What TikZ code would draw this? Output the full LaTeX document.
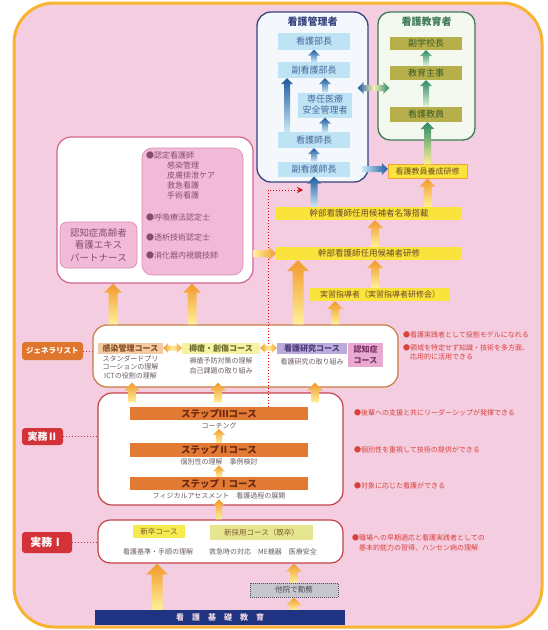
\documentclass[tikz,border=0pt]{standalone}
\usepackage{fontspec}
\setmainfont{Noto Sans CJK JP}
\usetikzlibrary{calc,arrows.meta}

\definecolor{pinkbg}{HTML}{F5CDE1}
\definecolor{frameO}{HTML}{F8B331}
\definecolor{mgrLine}{HTML}{36437E}
\definecolor{mgrFill}{HTML}{F4F8FC}
\definecolor{mgrPost}{HTML}{BEE3F4}
\definecolor{mgrText}{HTML}{4A6A9E}
\definecolor{eduLine}{HTML}{3F7A58}
\definecolor{eduFill}{HTML}{F3F9EF}
\definecolor{eduPost}{HTML}{B7B04A}
\definecolor{eduText}{HTML}{3E5A2A}
\definecolor{barY}{HTML}{FAE43C}
\definecolor{barLine}{HTML}{F2A23A}
\definecolor{barText}{HTML}{6A4A2A}
\definecolor{qualLine}{HTML}{D2648F}
\definecolor{pinkPost}{HTML}{F1BAD7}
\definecolor{pinkLine}{HTML}{D98AB4}
\definecolor{pinkText}{HTML}{8A4A70}
\definecolor{genLine}{HTML}{C97A40}
\definecolor{genTag}{HTML}{E0762E}
\definecolor{kansenFill}{HTML}{F2CAA4}
\definecolor{kansenText}{HTML}{8A4E22}
\definecolor{jokusoFill}{HTML}{F5F2A4}
\definecolor{jokusoText}{HTML}{6E6E2C}
\definecolor{kenkyuFill}{HTML}{BAABDA}
\definecolor{kenkyuText}{HTML}{4C3C7C}
\definecolor{ninchiFill}{HTML}{E9AAD2}
\definecolor{ninchiText}{HTML}{7C3268}
\definecolor{subText}{HTML}{6A5C66}
\definecolor{redTxt}{HTML}{D8423A}
\definecolor{redTag}{HTML}{D23238}
\definecolor{redLine}{HTML}{C2424A}
\definecolor{dotRed}{HTML}{B83A4A}
\definecolor{stepFill}{HTML}{E27A34}
\definecolor{stepText}{HTML}{6A2810}
\definecolor{newFill}{HTML}{F6EB4E}
\definecolor{midFill}{HTML}{E7E690}
\definecolor{newText}{HTML}{7A5A30}
\definecolor{grayFill}{HTML}{C6C6CC}
\definecolor{grayLine}{HTML}{505062}
\definecolor{grayText}{HTML}{4A4A5A}
\definecolor{navy}{HTML}{1E3482}
\definecolor{navyText}{HTML}{F0D4E2}
\definecolor{arrO}{HTML}{F19A2C}
\definecolor{arrY}{HTML}{FFF09A}
\definecolor{arrB}{HTML}{1E5C9E}
\definecolor{arrLB}{HTML}{CBE7F6}
\definecolor{arrG}{HTML}{2B8A66}
\definecolor{arrLG}{HTML}{E4F3DA}

\newcommand\fs[2]{\fontsize{#1}{#2}\selectfont}
\newcommand\vfat[4][]{\shade[#1] let \p1=(#2), \p2=(#3) in (\x1-#4,\y1) -- (\x1-#4,\y2-2*#4) -- (\x1-2*#4,\y2-2*#4) -- (\x1,\y2) -- (\x1+2*#4,\y2-2*#4) -- (\x1+#4,\y2-2*#4) -- (\x1+#4,\y1) -- cycle;}
\newcommand\hfat[4][]{\shade[#1] let \p1=(#2), \p2=(#3) in (\x1,\y1-#4) -- (\x2-2*#4,\y1-#4) -- (\x2-2*#4,\y1-2*#4) -- (\x2,\y1) -- (\x2-2*#4,\y1+2*#4) -- (\x2-2*#4,\y1+#4) -- (\x1,\y1+#4) -- cycle;}
\newcommand\dfat[4][]{\shade[#1] let \p1=(#2), \p2=(#3) in (\x1,\y1) -- (\x1+2*#4,\y1+2*#4) -- (\x1+2*#4,\y1+#4) -- (\x2-2*#4,\y1+#4) -- (\x2-2*#4,\y1+2*#4) -- (\x2,\y1) -- (\x2-2*#4,\y1-2*#4) -- (\x2-2*#4,\y1-#4) -- (\x1+2*#4,\y1-#4) -- (\x1+2*#4,\y1-2*#4) -- cycle;}

\begin{document}
\begin{tikzpicture}[x=1pt,y=-1pt]
        \tikzstyle{every node}+=[inner sep=0pt]
        \tikzstyle{outerframe}=[draw=frameO, line width=3pt, fill=pinkbg, rounded corners=40pt]
        \tikzstyle{mgrbox}=[draw=mgrLine, line width=1.3pt, fill=mgrFill, rounded corners=14pt]
        \tikzstyle{edubox}=[draw=eduLine, line width=1.3pt, fill=eduFill, rounded corners=12pt]
        \tikzstyle{ttl}=[font=\fs{10}{12}\bfseries]
        \tikzstyle{mgrpost}=[fill=mgrPost, text=mgrText, minimum width=72pt, font=\fs{9}{11}, align=center]
        \tikzstyle{edupost}=[fill=eduPost, text=eduText, minimum width=72pt, font=\fs{9}{11}]
        \tikzstyle{ybar}=[fill=barY, text=barText, minimum height=13pt, font=\fs{8.5}{10}]
        \tikzstyle{wbox}=[fill=white, line width=1.2pt, rounded corners=14pt]
        \tikzstyle{pinkpost}=[fill=pinkPost, draw=pinkLine, line width=0.6pt, rounded corners=7pt, text=pinkText, font=\fs{9.5}{12.5}, align=center]
        \tikzstyle{listtxt}=[anchor=west, text=pinkText, font=\fs{8}{9}]
        \tikzstyle{sidetag}=[text=white, rounded corners=3pt, font=\fs{10}{12}\bfseries]
        \tikzstyle{course}=[minimum height=11pt, font=\fs{8}{10}\bfseries]
        \tikzstyle{subtxt}=[text=subText, font=\fs{7}{8.5}, align=center]
        \tikzstyle{redtxt}=[anchor=west, text=redTxt, font=\fs{7}{9}]
        \tikzstyle{stepbar}=[fill=stepFill, text=stepText, minimum width=178pt, minimum height=13pt, font=\fs{9.5}{11}\bfseries]
        \tikzstyle{dotline}=[draw=dotRed, dotted, line width=1pt]
        \tikzstyle{reddot}=[draw=red!85!black, dotted, line width=1pt]
        \tikzstyle{orarr}=[top color=arrO, bottom color=arrY]
        \tikzstyle{orh}=[left color=arrY, right color=arrO]
        \tikzstyle{ord}=[left color=arrO, right color=arrO, middle color=arrY]
        \tikzstyle{blarr}=[top color=arrB, bottom color=arrLB]
        \tikzstyle{blh}=[left color=arrLB, right color=arrB]
        \tikzstyle{grarr}=[top color=arrG, bottom color=arrLG]
        \tikzstyle{ygarr}=[top color=arrG, bottom color=arrY]
        \tikzstyle{bgd}=[left color=arrB, right color=arrG, middle color=arrY!60!arrLG]
        \useasboundingbox (0,0) rectangle (547,630);
        \draw [outerframe] (14,3) rectangle (542,627);
        \node [mgrbox, minimum width=111pt, minimum height=170pt] (mgr) at (312.5,97) {};
        \node [ttl, text=mgrLine] (mgrttl) at (312.5,22) {看護管理者};
        \node [mgrpost, minimum height=17pt] (bucho) at (314,41) {看護部長};
        \node [mgrpost, minimum height=16pt] (fbucho) at (314,70) {副看護部長};
        \node [mgrpost, minimum width=54pt, minimum height=25pt] (anzen) at (325,105) {専任医療\\安全管理者};
        \node [mgrpost, minimum height=16pt] (shicho) at (314,140) {看護師長};
        \node [mgrpost, minimum height=15pt] (fshicho) at (314,169) {副看護師長};
        \node [edubox, minimum width=97pt, minimum height=128pt] (edu) at (426.5,76) {};
        \node [ttl, text=eduLine] (eduttl) at (426.5,22) {看護教育者};
        \node [edupost, minimum height=13pt] (fgakko) at (426,43.5) {副学校長};
        \node [edupost, minimum height=14pt] (kyoiku) at (426,73) {教育主事};
        \node [edupost, minimum height=15pt] (kyoin) at (426,114.5) {看護教員};
        \node [ybar, draw=barLine, minimum width=79pt, minimum height=14pt, font=\fs{8}{10}] (yosei) at (427.5,171.5) {看護教員養成研修};
        \node [ybar, minimum width=186pt] (meibo) at (369,213.5) {幹部看護師任用候補者名簿搭載};
        \node [ybar, minimum width=186pt] (kenshu) at (369,253.5) {幹部看護師任用候補者研修};
        \node [ybar, minimum width=140pt, font=\fs{8}{10}] (shido) at (380,294.5) {実習指導者（実習指導者研修会）};
        \node [wbox, draw=qualLine, minimum width=196pt, minimum height=146pt] (qual) at (155,210) {};
        \node [pinkpost, minimum width=77pt, minimum height=46pt] (expert) at (98.5,245) {認知症高齢者\\看護エキス\\パートナース};
        \node [pinkpost, minimum width=101pt, minimum height=127pt, rounded corners=10pt] (nintei) at (192.5,211.5) {};
        \node [listtxt] (q1) at (146,155) {●認定看護師};
        \node [listtxt] (q2) at (167,165) {感染管理};
        \node [listtxt] (q3) at (167,175) {皮膚排泄ケア};
        \node [listtxt] (q4) at (167,185) {救急看護};
        \node [listtxt] (q5) at (167,195) {手術看護};
        \node [listtxt] (q6) at (146,217) {●呼吸療法認定士};
        \node [listtxt] (q7) at (146,237) {●透析技術認定士};
        \node [listtxt] (q8) at (146,255) {●消化器内視鏡技師};
        \node [sidetag, fill=genTag, minimum width=61pt, minimum height=18pt, font=\fs{7.5}{9}\bfseries] (gentag) at (52.5,351) {ジェネラリスト};
        \node [wbox, draw=genLine, minimum width=305pt, minimum height=62pt] (gen) at (245.5,356) {};
        \node [course, fill=kansenFill, text=kansenText, minimum width=65pt] (kansen) at (130.5,348) {感染管理コース};
        \node [subtxt, anchor=north] (kansensub) at (130.5,355) {スタンダードプリ\\コーションの理解\\ICTの役割の理解};
        \node [course, fill=jokusoFill, text=jokusoText, minimum width=78pt] (jokuso) at (221,348) {褥瘡・創傷コース};
        \node [subtxt, anchor=north, font=\fs{7}{10}] (jokusosub) at (221,357) {褥瘡予防対策の理解\\自己課題の取り組み};
        \node [course, fill=kenkyuFill, text=kenkyuText, minimum width=70pt] (kenkyu) at (312,348.5) {看護研究コース};
        \node [subtxt] (kenkyusub) at (312,362) {看護研究の取り組み};
        \node [course, fill=ninchiFill, text=ninchiText, minimum width=35pt, minimum height=24pt, align=center, font=\fs{8}{10.5}\bfseries] (ninchi) at (365.5,355) {認知症\\コース};
        \node [redtxt] (g1) at (403,335) {●看護実践者として役割モデルになれる};
        \node [redtxt] (g2) at (403,348) {●領域を特定せず知識・技術を多方面、};
        \node [redtxt] (g3) at (410,357) {応用的に活用できる};
        \node [wbox, draw=redLine, minimum width=245pt, minimum height=112pt] (jm2) at (220.5,449) {};
        \node [sidetag, fill=redTag, minimum width=41pt, minimum height=17pt] (jm2tag) at (42.5,436.5) {実務Ⅱ};
        \node [stepbar] (step3) at (219,413.5) {ステップⅢコース};
        \node [subtxt] (step3sub) at (219,425.5) {コーチング};
        \node [stepbar, minimum height=14pt] (step2) at (219,450) {ステップⅡコース};
        \node [subtxt] (step2sub) at (219,462) {個別性の理解　事例検討};
        \node [stepbar] (step1) at (219,483.5) {ステップⅠコース};
        \node [subtxt] (step1sub) at (219,496) {フィジカルアセスメント　看護過程の展開};
        \node [redtxt] (s3) at (354,413) {●後輩への支援と共にリーダーシップが発揮できる};
        \node [redtxt] (s2) at (354,450) {●個別性を重視して技術の提供ができる};
        \node [redtxt] (s1) at (354,486) {●対象に応じた看護ができる};
        \node [wbox, draw=redLine, minimum width=245pt, minimum height=43pt, rounded corners=12pt] (jm1) at (220.5,541.5) {};
        \node [sidetag, fill=redTag, minimum width=50pt, minimum height=21pt, font=\fs{11}{13}\bfseries] (jm1tag) at (47,542.5) {実務Ⅰ};
        \node [course, fill=newFill, text=newText, minimum width=52pt, minimum height=13pt, font=\fs{7.5}{9}] (shinsotsu) at (159,531.5) {新卒コース};
        \node [course, fill=midFill, text=newText, minimum width=103pt, minimum height=15pt, font=\fs{7.5}{9}] (shinsaiyo) at (261.5,532.5) {新採用コース（既卒）};
        \node [subtxt] (n1sub) at (158,552) {看護基準・手順の理解};
        \node [subtxt] (n2sub) at (263,552) {救急時の対応　ME機器　医療安全};
        \node [redtxt] (j1) at (352,538) {●職場への早期適応と看護実践者としての};
        \node [redtxt] (j2) at (359,548) {基本的能力の習得、ハンセン病の理解};
        \node [fill=grayFill, draw=grayLine, densely dotted, line width=1pt, text=grayText, minimum width=88pt, minimum height=14pt, font=\fs{7.5}{9}] (other) at (294,590) {他院で勤務};
        \node [fill=navy, text=navyText, minimum width=250pt, minimum height=15pt, font=\fs{8}{10}\bfseries] (kiso) at (220,617.5) {看\hspace{8pt}護\hspace{8pt}基\hspace{8pt}礎\hspace{8pt}教\hspace{8pt}育};
        \draw [dotline] (gentag.east) -- (gentag.east -| gen.west);
        \draw [dotline] (jm2tag.east) -- (jm2tag.east -| jm2.west);
        \draw [dotline] (jm1tag.east) -- (jm1tag.east -| jm1.west);
        \coordinate (dotend) at (303,190);
        \draw [reddot, -{Stealth[length=6pt,width=6pt]}] (step3.north -| 268,0) |- (dotend);
        \vfat[blarr]{fbucho.north}{bucho.south}{3pt}
        \vfat[blarr]{anzen.north}{fbucho.south}{3pt}
        \vfat[blarr]{shicho.north -| anzen.north}{anzen.south}{3pt}
        \vfat[blarr]{fshicho.north}{shicho.south}{3pt}
        \vfat[blarr]{shicho.north -| 287,0}{fbucho.south}{3pt}
        \vfat[blarr]{meibo.north -| fshicho.south}{fshicho.south}{3.5pt}
        \dfat[bgd]{$(mgr.east |- 0,88)+(-11,0)$}{$(edu.west |- 0,88)+(12,0)$}{3pt}
        \hfat[blh]{$(fshicho.east)+(12,0)$}{yosei.west}{3pt}
        \vfat[grarr]{kyoiku.north}{fgakko.south}{3pt}
        \vfat[grarr]{kyoin.north}{kyoiku.south}{3pt}
        \vfat[ygarr]{yosei.north}{kyoin.south}{3.5pt}
        \vfat[orarr]{meibo.north -| yosei.south}{yosei.south}{4pt}
        \vfat[orarr]{kenshu.north -| 375,0}{meibo.south}{4pt}
        \vfat[orarr]{shido.north -| 375,0}{kenshu.south}{4pt}
        \vfat[orarr]{gen.north -| 298,0}{kenshu.south}{5.5pt}
        \vfat[orarr]{gen.north -| 335,0}{shido.south}{4pt}
        \vfat[orarr]{gen.north -| 113,0}{qual.south}{4.5pt}
        \vfat[orarr]{gen.north -| 192,0}{qual.south}{4.5pt}
        \hfat[orh]{qual.east |- kenshu.west}{kenshu.west}{3.5pt}
        \dfat[ord]{kansen.east}{jokuso.west}{2.5pt}
        \dfat[ord]{jokuso.east}{kenkyu.west}{2.5pt}
        \vfat[orarr]{$(jm2.north -| 132,0)+(0,10)$}{$(gen.south)+(0,-5)$}{4pt}
        \vfat[orarr]{$(jm2.north -| 218,0)+(0,10)$}{$(gen.south)+(0,-5)$}{4pt}
        \vfat[orarr]{$(jm2.north -| 315,0)+(0,10)$}{$(gen.south)+(0,-5)$}{4pt}
        \vfat[orarr]{step2.north}{step3sub.south}{3pt}
        \vfat[orarr]{step1.north}{step2sub.south}{3pt}
        \vfat[orarr]{jm1.north -| step1.south}{step1sub.south}{3pt}
        \vfat[orarr]{kiso.north -| 157,0}{jm1.south}{5.5pt}
        \vfat[orarr]{kiso.north -| other.south}{other.south}{4pt}
        \vfat[orarr]{other.north}{jm1.south}{4pt}
\end{tikzpicture}
\end{document}
